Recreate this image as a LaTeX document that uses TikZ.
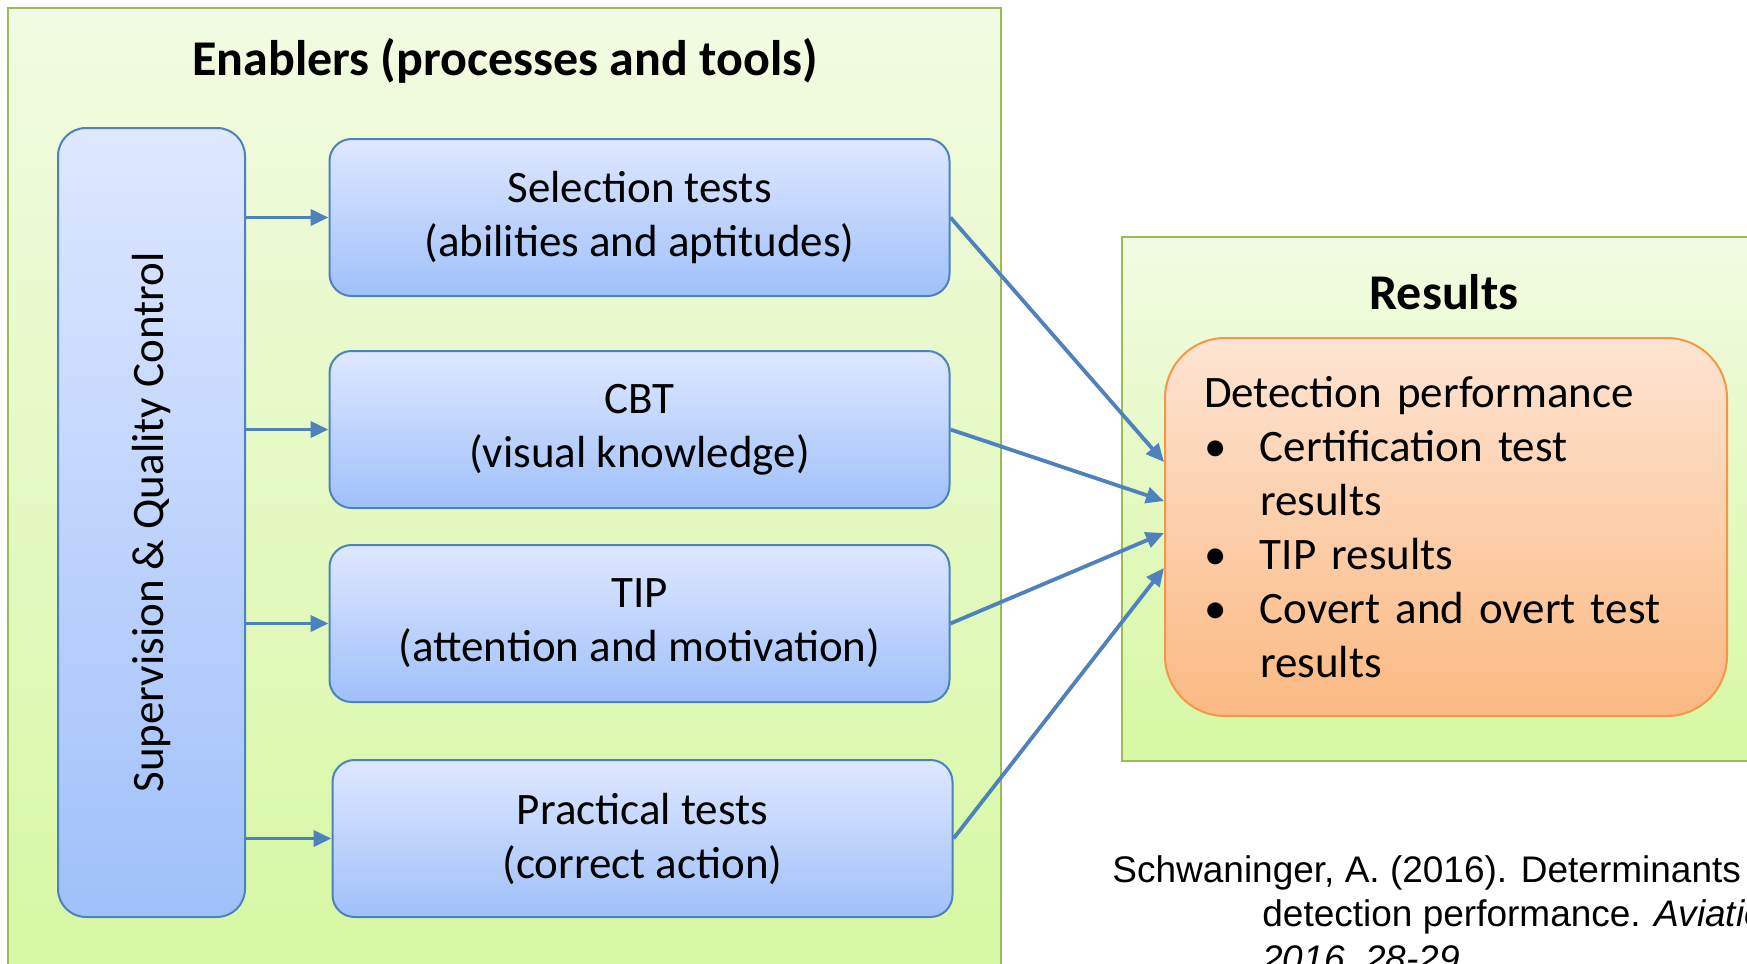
\documentclass[tikz,border=0pt]{standalone}
\usepackage{fontspec}
\setmainfont{Carlito}
\newfontfamily\citefont{Liberation Sans}
\usetikzlibrary{arrows.meta,positioning}

\definecolor{grpline}{RGB}{155,187,89}
\definecolor{grptop}{RGB}{242,251,226}
\definecolor{grpbot}{RGB}{214,248,162}
\definecolor{blline}{RGB}{79,129,189}
\definecolor{bltop}{RGB}{222,232,255}
\definecolor{blbot}{RGB}{160,192,250}
\definecolor{orline}{RGB}{247,150,70}
\definecolor{ortop}{RGB}{253,228,210}
\definecolor{orbot}{RGB}{251,185,130}
\definecolor{arrblue}{RGB}{79,129,189}

\begin{document}
\begin{tikzpicture}[
  x=0.5pt, y=-0.5pt,
  font=\fontsize{22.5}{27}\selectfont,
  grp/.style={draw=grpline, line width=1pt, top color=grptop,
    bottom color=grpbot, anchor=north west, inner sep=0pt},
  blbox/.style={draw=blline, line width=1pt, rounded corners=11pt,
    top color=bltop, bottom color=blbot, align=center,
    minimum width=310pt, minimum height=78.5pt},
  detbox/.style={draw=orline, line width=1pt, rounded corners=30pt,
    top color=ortop, bottom color=orbot, align=left, text width=242pt,
    inner xsep=19.5pt, minimum width=281pt, minimum height=189pt},
  ttl/.style={font=\fontsize{25}{30}\selectfont\bfseries},
  cite/.style={font=\citefont\fontsize{18.5}{22.3}\selectfont, align=left,
    inner sep=0pt, anchor=north west},
  arr/.style={-{Triangle[length=9pt, width=8pt]}, line width=1.9pt, draw=arrblue}
]
  \path[use as bounding box, clip] (0,0) rectangle (1747,964);

  % the two group panels
  \node[grp, minimum width=496.5pt, minimum height=490pt] (enab) at (7,7) {};
  \node[grp, minimum width=322pt, minimum height=262pt] (res) at (1121,236) {};
  \node[ttl] (entitle) at (505,61) {Enablers (processes and tools)};
  \node[ttl] (restitle) at (1444,292) {Results};

  % enablers
  \node[blbox, rounded corners=14pt, minimum width=93.5pt, minimum height=394.5pt]
    (sup) at (151.5,522.5) {\rotatebox{90}{Supervision \& Quality Control}};
  \node[blbox] (sel) at (639.5,217.5) {Selection tests\\(abilities and aptitudes)};
  \node[blbox, below=26.5pt of sel] (cbt) {CBT\\(visual knowledge)};
  \node[blbox, below=17.5pt of cbt] (tip) {TIP\\(attention and motivation)};
  \node[blbox, below=28pt of tip, xshift=1.5pt] (prac) {Practical tests\\(correct action)};

  % results
  \node[detbox] (det) at (1446,527) {Detection performance\\
    \makebox[28pt][l]{\textbullet}Certification test\\
    \hspace*{28pt}results\\
    \makebox[28pt][l]{\textbullet}TIP results\\
    \makebox[28pt][l]{\textbullet}Covert and overt test\\
    \hspace*{28pt}results};

  \node[cite] (ref) at (1112,855) {Schwaninger, A. (2016). Determinants of screener\\
    \hspace*{75pt}detection performance. \textit{Aviation Security International,}\\
    \hspace*{75pt}\textit{2016, 28-29.}};

  \draw[arr] (sup.east |- sel.west) -- (sel.west);
  \draw[arr] (sup.east |- cbt.west) -- (cbt.west);
  \draw[arr] (sup.east |- tip.west) -- (tip.west);
  \draw[arr] (sup.east |- prac.west) -- (prac.west);
  \draw[arr] (sel.east) -- ([yshift=32.5pt]det.west);
  \draw[arr] (cbt.east) -- ([yshift=13pt]det.west);
  \draw[arr] (tip.east) -- ([yshift=-3pt]det.west);
  \draw[arr] (prac.east) -- ([yshift=-20.5pt]det.west);
\end{tikzpicture}
\end{document}
